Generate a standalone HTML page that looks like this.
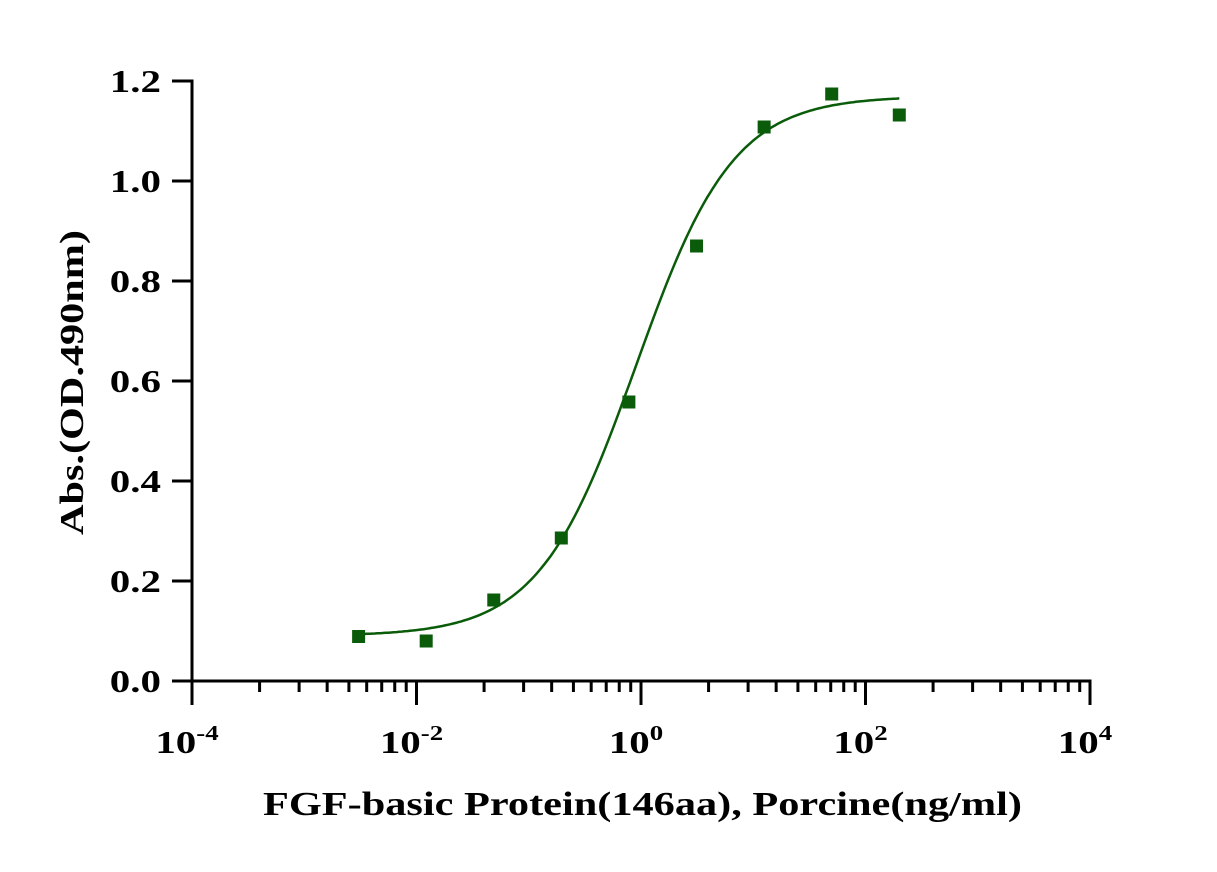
<!DOCTYPE html>
<html><head><meta charset="utf-8"><style>
html,body{margin:0;padding:0;background:#fff;}
svg text{font-family:"Liberation Serif",serif;font-weight:bold;fill:#000;}
</style></head><body>
<svg width="1217" height="867" viewBox="0 0 1217 867" xmlns="http://www.w3.org/2000/svg">
<g id="axes"></g>
<g id="plot"></g>
<text x="263" y="815" font-size="34" textLength="759" lengthAdjust="spacingAndGlyphs">FGF-basic Protein(146aa), Porcine(ng/ml)</text>
<text transform="translate(83,535) rotate(-90)" font-size="34" textLength="305" lengthAdjust="spacingAndGlyphs">Abs.(OD.490nm)</text>
</svg>
<script>
const concentrations=[0.00305,0.0122,0.0488,0.195,0.78,3.125,12.5,50,200];
const absorbance=[0.089,0.080,0.162,0.286,0.558,0.870,1.108,1.174,1.132];
const fitParams=[0.09,1.17,0.9,1.0]; // bottom, top, EC50, hill
const yTicks=[0,0.2,0.4,0.6,0.8,1.0,1.2];
const yTickLabels=["0.0","0.2","0.4","0.6","0.8","1.0","1.2"];
const xMajorExps=[-4,-2,0,2,4];
const xTickLabels=["-4","-2","0","2","4"];

const NS="http://www.w3.org/2000/svg";
const X0=192,X1=1090,Y0=681,Y1=81;
const xs=v=>X0+(Math.log10(v)+4)/8*(X1-X0);
const ys=v=>Y0-v/1.2*(Y0-Y1);
function mk(tag,attrs,parent){const e=document.createElementNS(NS,tag);for(const k in attrs)e.setAttribute(k,attrs[k]);parent.appendChild(e);return e;}
const axes=document.getElementById('axes'),plot=document.getElementById('plot');

let l=mk('line',{x1:X0,y1:Y0,x2:X1+1.5,y2:Y0,stroke:'#000','stroke-width':3},axes);


l=mk('line',{x1:X0,y1:Y0+1.5,x2:X0,y2:Y1-1.5,stroke:'#000','stroke-width':3},axes);



yTicks.forEach((v,i)=>{
  const y=ys(v);
  const t=mk('line',{x1:X0-20,y1:y,x2:X0,y2:y,stroke:'#000','stroke-width':3},axes);
  
  
  const g=mk('g',{transform:'translate('+(X0-31)+','+(y+11)+') scale(1.28,1)'},axes);
  const tx=mk('text',{x:0,y:0,'font-size':32,'text-anchor':'end'},g);
  tx.textContent=yTickLabels[i];
  
  
});

xMajorExps.forEach((e,i)=>{
  const x=xs(Math.pow(10,e));
  const t=mk('line',{x1:x,y1:Y0,x2:x,y2:Y0+24,stroke:'#000','stroke-width':3},axes);
  
  
  const g=mk('g',{transform:'translate('+(x-5)+','+(Y0+72)+') scale(1.28,1)'},axes);
  const tx=mk('text',{x:0,y:0,'font-size':32,'text-anchor':'middle'},g);
  tx.appendChild(document.createTextNode('10'));
  const sp=mk('tspan',{dy:-13,'font-size':21},tx);
  sp.textContent=xTickLabels[i];
  
  
  if(i<xMajorExps.length-1){
    for(let k=2;k<=9;k++){
      const xm=xs(Math.pow(10,e)*k*k);
      const m=mk('line',{x1:xm,y1:Y0,x2:xm,y2:Y0+11,stroke:'#000','stroke-width':3},axes);
      
      
    }
  }
});

const fBottom=fitParams[0],fTop=fitParams[1],fEc50=fitParams[2],fHill=fitParams[3];
const fitFn=x=>fBottom+(fTop-fBottom)/(1+Math.pow(fEc50/x,fHill));
const lo=Math.log10(concentrations[0]),hi=Math.log10(concentrations[concentrations.length-1]);
let d='';
for(let i=0;i<=200;i++){const lx=lo+(hi-lo)*i/200;const x=Math.pow(10,lx);d+=(i?'L':'M')+xs(x).toFixed(1)+','+ys(fitFn(x)).toFixed(1);}
const c=mk('path',{d:d,fill:'none',stroke:'#0a5c0a','stroke-width':2.5},plot);



concentrations.forEach((cx,i)=>{
  const r=mk('rect',{x:xs(cx)-6.5,y:ys(absorbance[i])-6.5,width:13,height:13,fill:'#0a5c0a'},plot);
  
  
});
</script>
</body></html>
